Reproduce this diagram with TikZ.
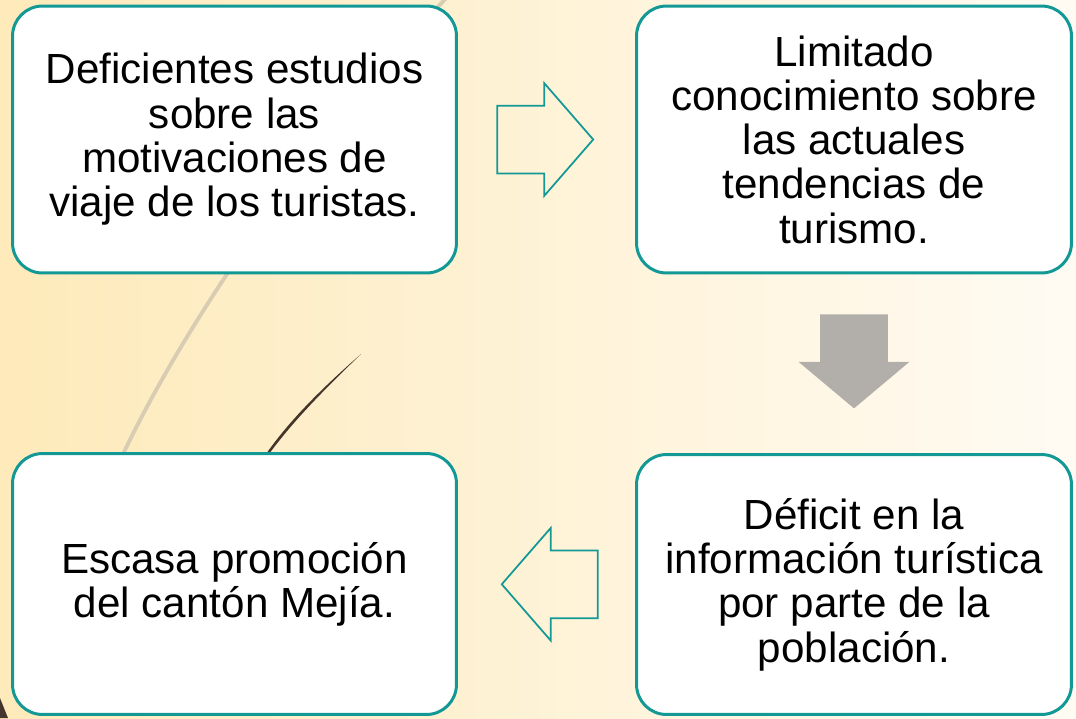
\documentclass[tikz,border=0pt]{standalone}
\usepackage{fontspec}
\setmainfont{Liberation Sans}
\usepackage{tikz}
\usetikzlibrary{shapes,arrows,positioning,calc}
\definecolor{tealline}{RGB}{18,153,150}
\definecolor{greyarrow}{RGB}{178,175,171}
\definecolor{bgleft}{RGB}{254,234,186}
\definecolor{bgright}{RGB}{255,251,243}
\definecolor{tanline}{RGB}{216,205,178}
\definecolor{darkbrown}{RGB}{68,54,44}

\tikzset{
    causebox/.style={draw=tealline, line width=1.7pt, fill=white, rounded corners=0.6cm,
        align=center, font=\fontsize{24}{25.2}\selectfont, inner sep=0pt},
    hollowarrow/.style={single arrow, draw=tealline, line width=1pt, fill=none,
        inner xsep=0pt, inner ysep=0.66cm, single arrow head extend=0.45cm,
        single arrow tip angle=98, minimum height=1.92cm},
    solidarrow/.style={single arrow, draw=none, fill=greyarrow,
        inner xsep=0pt, inner ysep=0.67cm, single arrow head extend=0.43cm,
        single arrow tip angle=100, minimum height=1.88cm}
}

\begin{document}
\begin{tikzpicture}[x=0.02cm, y=-0.02cm]
    % Background
    \useasboundingbox (0,0) rectangle (1076,718);
    \shade[left color=bgleft, right color=bgright] (0,0) rectangle (1076,718);
    \draw[tanline, line width=2.2pt] (452,-8) .. controls (300,150) and (150,370) .. (95,520);
    \fill[darkbrown] (361,354) .. controls (320,390) and (290,420) .. (266,454)
        -- (269,454) .. controls (294,420) and (324,390) .. (361,354) -- cycle;
    \fill[darkbrown] (0,698) -- (8,718) -- (0,718) -- cycle;

    % Boxes
    \node[causebox, minimum width=8.88cm, minimum height=5.34cm] (defic) at (234.5,139.5)
        {Deficientes estudios\\sobre las\\motivaciones de\\viaje de los turistas.};
    \node[causebox, minimum width=8.7cm, minimum height=5.34cm] (limit) at (854,139.5)
        {Limitado\\conocimiento sobre\\las actuales\\tendencias de\\turismo.};
    \node[causebox, minimum width=8.7cm, minimum height=5.2cm] (deficit) at (854,584.5)
        {D\'eficit en la\\informaci\'on tur\'istica\\por parte de la\\poblaci\'on.};
    \node[causebox, minimum width=8.88cm, minimum height=5.22cm] (escasa) at (234.5,584)
        {Escasa promoci\'on\\del cant\'on Mej\'ia.};

    % Arrows
    \node[hollowarrow] (toright) at ($(defic.east)!0.5!(limit.west)+(-16,0)$) {};
    \node[solidarrow, rotate=-90] (todown) at ($(limit.south)!0.48!(deficit.north)+(0,-13)$) {};
    \node[hollowarrow, rotate=180] (toleft) at ($(escasa.east)!0.5!(deficit.west)+(18,0)$) {};
\end{tikzpicture}
\end{document}
